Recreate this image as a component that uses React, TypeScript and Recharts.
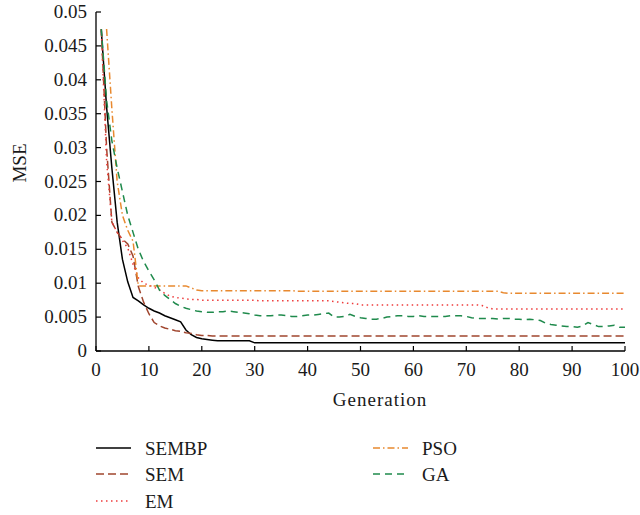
import { Line, LineChart, XAxis, YAxis } from "recharts";

// generation index (x) and the MSE of each optimiser per generation
const generations = Array.from({ length: 100 }, (_, i) => i + 1);

const sembp = [
  0.0473, 0.036, 0.027, 0.019, 0.0135, 0.0102, 0.0079, 0.0074, 0.0068, 0.0063,
  0.0059, 0.0056, 0.0052, 0.0049, 0.0046, 0.0043, 0.0031, 0.0024, 0.002, 0.0018,
  0.0017, 0.0016, 0.0015, 0.0015, 0.0015, 0.0015, 0.0015, 0.0015, 0.0015, 0.0012,
  0.0012, 0.0012, 0.0012, 0.0012, 0.0012, 0.0012, 0.0012, 0.0012, 0.0012, 0.0012,
  0.0012, 0.0012, 0.0012, 0.0012, 0.0012, 0.0012, 0.0012, 0.0012, 0.0012, 0.0012,
  0.0012, 0.0012, 0.0012, 0.0012, 0.0012, 0.0012, 0.0012, 0.0012, 0.0012, 0.0012,
  0.0012, 0.0012, 0.0012, 0.0012, 0.0012, 0.0012, 0.0012, 0.0012, 0.0012, 0.0012,
  0.0012, 0.0012, 0.0012, 0.0012, 0.0012, 0.0012, 0.0012, 0.0012, 0.0012, 0.0012,
  0.0012, 0.0012, 0.0012, 0.0012, 0.0012, 0.0012, 0.0012, 0.0012, 0.0012, 0.0012,
  0.0012, 0.0012, 0.0012, 0.0012, 0.0012, 0.0012, 0.0012, 0.0012, 0.0012, 0.0012,
];

const sem = [
  0.0475, 0.03, 0.019, 0.0175, 0.0165, 0.0158, 0.014, 0.0095, 0.0072, 0.0055,
  0.0042, 0.0037, 0.0034, 0.0032, 0.003, 0.0029, 0.0027, 0.0026, 0.0024, 0.0023,
  0.0023, 0.0022, 0.0022, 0.0022, 0.0022, 0.0022, 0.0022, 0.0022, 0.0022, 0.0022,
  0.0022, 0.0022, 0.0022, 0.0022, 0.0022, 0.0022, 0.0022, 0.0022, 0.0022, 0.0022,
  0.0022, 0.0022, 0.0022, 0.0022, 0.0022, 0.0022, 0.0022, 0.0022, 0.0022, 0.0022,
  0.0022, 0.0022, 0.0022, 0.0022, 0.0022, 0.0022, 0.0022, 0.0022, 0.0022, 0.0022,
  0.0022, 0.0022, 0.0022, 0.0022, 0.0022, 0.0022, 0.0022, 0.0022, 0.0022, 0.0022,
  0.0022, 0.0022, 0.0022, 0.0022, 0.0022, 0.0022, 0.0022, 0.0022, 0.0022, 0.0022,
  0.0022, 0.0022, 0.0022, 0.0022, 0.0022, 0.0022, 0.0022, 0.0022, 0.0022, 0.0022,
  0.0022, 0.0022, 0.0022, 0.0022, 0.0022, 0.0022, 0.0022, 0.0022, 0.0022, 0.0022,
];

const em = [
  0.0475, 0.028, 0.019, 0.0175, 0.0163, 0.0152, 0.0128, 0.0108, 0.01, 0.0097,
  0.0094, 0.009, 0.0085, 0.0081, 0.0079, 0.0078, 0.0077, 0.0076, 0.0076, 0.0075,
  0.0075, 0.0075, 0.0075, 0.0075, 0.0075, 0.0075, 0.0075, 0.0075, 0.0075, 0.0075,
  0.0074, 0.0074, 0.0074, 0.0074, 0.0074, 0.0074, 0.0074, 0.0074, 0.0074, 0.0074,
  0.0074, 0.0074, 0.0074, 0.0074, 0.0073, 0.0072, 0.0071, 0.007, 0.007, 0.0068,
  0.0068, 0.0068, 0.0068, 0.0068, 0.0068, 0.0068, 0.0068, 0.0068, 0.0068, 0.0068,
  0.0068, 0.0068, 0.0068, 0.0068, 0.0068, 0.0068, 0.0068, 0.0068, 0.0068, 0.0068,
  0.0068, 0.0068, 0.0067, 0.0064, 0.0062, 0.0062, 0.0062, 0.0062, 0.0062, 0.0062,
  0.0062, 0.0062, 0.0062, 0.0062, 0.0062, 0.0062, 0.0062, 0.0062, 0.0062, 0.0062,
  0.0062, 0.0062, 0.0062, 0.0062, 0.0062, 0.0062, 0.0062, 0.0062, 0.0062, 0.0062,
];

const pso = [
  null, 0.0475, 0.0357, 0.025, 0.02, 0.0178, 0.0162, 0.0096, 0.0096, 0.0096,
  0.0096, 0.0096, 0.0096, 0.0096, 0.0096, 0.0096, 0.0096, 0.0093, 0.009, 0.0089,
  0.0089, 0.0089, 0.0089, 0.0089, 0.0089, 0.0089, 0.0089, 0.0089, 0.0089, 0.0089,
  0.0089, 0.0089, 0.0089, 0.0089, 0.0089, 0.0089, 0.0089, 0.0088, 0.0088, 0.0088,
  0.0088, 0.0088, 0.0088, 0.0088, 0.0088, 0.0088, 0.0088, 0.0088, 0.0088, 0.0088,
  0.0088, 0.0088, 0.0088, 0.0088, 0.0088, 0.0088, 0.0088, 0.0088, 0.0088, 0.0088,
  0.0088, 0.0088, 0.0088, 0.0088, 0.0088, 0.0088, 0.0088, 0.0088, 0.0088, 0.0088,
  0.0088, 0.0088, 0.0088, 0.0088, 0.0088, 0.0088, 0.0086, 0.0085, 0.0085, 0.0085,
  0.0085, 0.0085, 0.0085, 0.0085, 0.0085, 0.0085, 0.0085, 0.0085, 0.0085, 0.0085,
  0.0085, 0.0085, 0.0085, 0.0085, 0.0085, 0.0085, 0.0085, 0.0085, 0.0085, 0.0085,
];

const ga = [
  0.0475, 0.037, 0.031, 0.027, 0.0235, 0.02, 0.0175, 0.015, 0.0132, 0.0118,
  0.0105, 0.009, 0.0082, 0.0076, 0.007, 0.0066, 0.0063, 0.0061, 0.0059, 0.0058,
  0.0057, 0.0057, 0.0058, 0.0058, 0.0059, 0.0058, 0.0057, 0.0056, 0.0055, 0.0053,
  0.0052, 0.0052, 0.0052, 0.0053, 0.0053, 0.0052, 0.0051, 0.0051, 0.0052, 0.0053,
  0.0053, 0.0054, 0.0055, 0.0056, 0.005, 0.005, 0.0051, 0.0054, 0.0051, 0.0049,
  0.0048, 0.0047, 0.0047, 0.0048, 0.005, 0.0051, 0.0052, 0.0052, 0.0051, 0.0051,
  0.0052, 0.0051, 0.0051, 0.0051, 0.0051, 0.0051, 0.0052, 0.0052, 0.0052, 0.0051,
  0.0049, 0.0048, 0.0048, 0.0048, 0.0048, 0.0047, 0.0048, 0.0048, 0.0047, 0.0047,
  0.0046, 0.0047, 0.0046, 0.0045, 0.0041, 0.0039, 0.0038, 0.0037, 0.0036, 0.0036,
  0.0035, 0.0037, 0.0042, 0.0039, 0.0036, 0.0036, 0.0037, 0.0038, 0.0035, 0.0035,
];

const xTicks = [0, 10, 20, 30, 40, 50, 60, 70, 80, 90, 100];
const yTicks = [0, 0.005, 0.01, 0.015, 0.02, 0.025, 0.03, 0.035, 0.04, 0.045, 0.05];
const yTickLabels = ["0", "0.005", "0.01", "0.015", "0.02", "0.025", "0.03", "0.035", "0.04", "0.045", "0.05"];

const series = [
  { key: "SEMBP", values: sembp, color: "#000000", dash: undefined },
  { key: "SEM", values: sem, color: "#a0452e", dash: "8 4" },
  { key: "EM", values: em, color: "#ee3b3b", dash: "1.5 3.5" },
  { key: "PSO", values: pso, color: "#e8892f", dash: "7 3 1.5 3" },
  { key: "GA", values: ga, color: "#1f8a4c", dash: "7 5" },
];

const data = generations.map((g, i) => {
  const row: Record<string, number | null> = { generation: g };
  series.forEach((s) => {
    row[s.key] = s.values[i];
  });
  return row;
});

const textStyle = { fontFamily: "Liberation Serif", fontSize: 19 };
const textColor = "#1a1a1a";

function XTick({ x, y, payload }: any) {
  return (
    <g>
      <line x1={x} x2={x} y1={y} y2={y - 5} stroke="#000" strokeWidth={1.2} />
      <text x={x} y={y + 25} textAnchor="middle" style={textStyle} fill={textColor}>
        {payload.value}
      </text>
    </g>
  );
}

function YTick({ x, y, payload }: any) {
  const label = yTickLabels[yTicks.indexOf(payload.value)];
  return (
    <g>
      <line x1={x} x2={x + 5} y1={y} y2={y} stroke="#000" strokeWidth={1.2} />
      <text x={x - 9} y={y + 6} textAnchor="end" style={textStyle} fill={textColor}>
        {label}
      </text>
    </g>
  );
}

function MseLabel() {
  return (
    <text x={26} y={163} transform="rotate(-90 26 163)" textAnchor="middle" style={textStyle} fill={textColor}>
      MSE
    </text>
  );
}

function GenerationLabel() {
  return (
    <text x={380} y={406} textAnchor="middle" style={{ ...textStyle, letterSpacing: 1 }} fill={textColor}>
      Generation
    </text>
  );
}

// two-column legend under the plot
const legendSlots = [
  { x: 96, y: 448 },
  { x: 96, y: 474 },
  { x: 96, y: 501 },
  { x: 373, y: 448 },
  { x: 373, y: 474 },
];

function ChartLegend() {
  return (
    <svg width={640} height={515} style={{ position: "absolute", left: 0, top: 0, pointerEvents: "none" }}>
      {series.map((s, i) => {
        const slot = legendSlots[i];
        return (
          <g key={s.key}>
            <line
              x1={slot.x}
              x2={slot.x + 35}
              y1={slot.y}
              y2={slot.y}
              stroke={s.color}
              strokeWidth={1.5}
              strokeDasharray={s.dash}
            />
            <text x={slot.x + 49} y={slot.y + 7} style={textStyle} fill={textColor}>
              {s.key}
            </text>
          </g>
        );
      })}
    </svg>
  );
}

export default function App() {
  return (
    <div style={{ position: "absolute", left: 0, top: 0, width: 640, height: 515, background: "#fff" }}>
      <LineChart width={640} height={420} data={data} margin={{ top: 12, right: 15, left: 0, bottom: 0 }}>
        <XAxis
          dataKey="generation"
          type="number"
          domain={[0, 100]}
          ticks={xTicks}
          height={69}
          tickSize={0}
          tickMargin={0}
          tickLine={false}
          tick={<XTick />}
          axisLine={{ stroke: "#000", strokeWidth: 1.3 }}
          label={<GenerationLabel />}
        />
        <YAxis
          type="number"
          domain={[0, 0.05]}
          ticks={yTicks}
          width={96}
          tickSize={0}
          tickMargin={0}
          tickLine={false}
          tick={<YTick />}
          axisLine={{ stroke: "#000", strokeWidth: 1.3 }}
          label={<MseLabel />}
        />
        {series.map((s) => (
          <Line
            key={s.key}
            dataKey={s.key}
            type="linear"
            stroke={s.color}
            strokeWidth={1.5}
            strokeDasharray={s.dash}
            dot={false}
            activeDot={false}
            isAnimationActive={false}
          />
        ))}
      </LineChart>
      <ChartLegend />
    </div>
  );
}
